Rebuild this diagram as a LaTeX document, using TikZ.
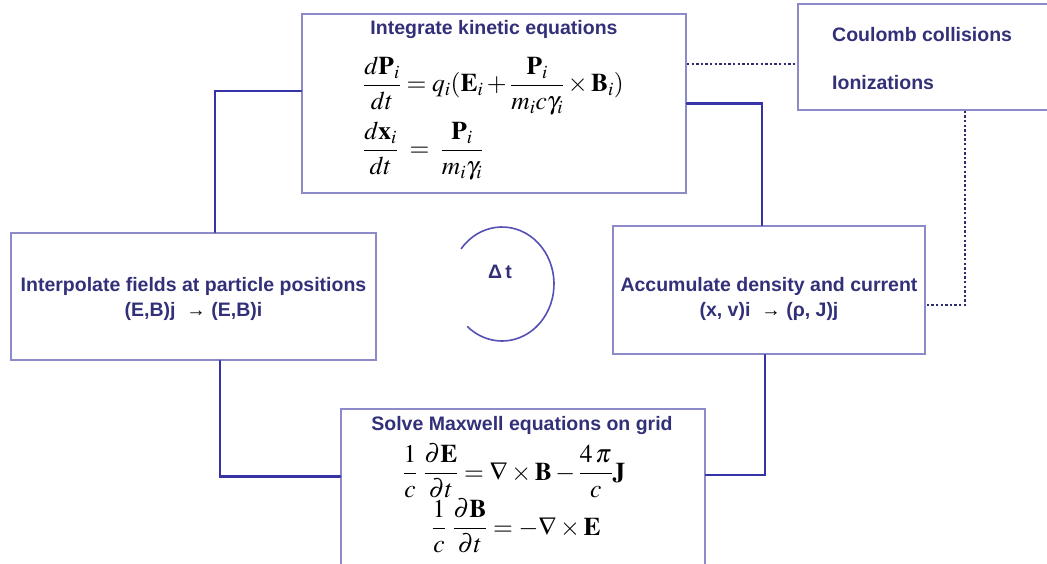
\documentclass[tikz,border=0pt]{standalone}
\usepackage{amsmath}
\usepackage{mathptmx}
\usepackage[no-math]{fontspec}
\newfontfamily\lsans{Liberation Sans}
\usetikzlibrary{calc}
\definecolor{boxc}{RGB}{140,138,200}
\definecolor{connc}{RGB}{55,50,165}
\definecolor{txtc}{RGB}{50,48,120}
\definecolor{dotc}{RGB}{45,45,110}
\definecolor{arcc}{RGB}{85,80,180}
\tikzset{
  box/.style={draw=boxc, line width=1.8pt, inner sep=0pt, minimum width=#1},
  lbl/.style={text=txtc, font=\lsans\bfseries\fontsize{19.5}{25}\selectfont, inner sep=0pt},
  eqn/.style={text=black, font=\fontsize{25.5}{29}\selectfont, inner sep=0pt},
  conn/.style={draw=connc, line width=2.4pt, line cap=round, line join=miter},
  dotline/.style={draw=dotc, line width=2.8pt, dash pattern=on 2.4pt off 2.2pt},
  arcline/.style={draw=arcc, line width=1.6pt}
}
\begin{document}
\begin{tikzpicture}[x=1pt,y=-1pt]
\useasboundingbox (0,0) rectangle (1047,564);
\clip (0,0) rectangle (1047,564);
% boxes
\node[box=384pt, minimum height=179pt] (kin) at (494,103.5) {};
\node[box=272pt, minimum height=106pt] (coul) at (934,57) {};
\node[box=365pt, minimum height=127pt] (interp) at (193.5,296.5) {};
\node[box=312pt, minimum height=128pt] (accum) at (769,290) {};
\node[box=364pt, minimum height=171pt] (maxw) at (523,494.5) {};
% connectors
\draw[conn] ([yshift=12.5pt]kin.west) -| ([xshift=21.5pt]interp.north);
\draw[conn] (kin.east) -| ([xshift=-7pt]accum.north);
\draw[conn] ([xshift=-4pt]accum.south) |- ([yshift=19.5pt]maxw.east);
\draw[conn] ([xshift=26.5pt]interp.south) |- ([yshift=18pt]maxw.west);
\draw[dotline] ([yshift=39.5pt]kin.east) -- ([yshift=-7pt]coul.west);
\draw[dotline] ([xshift=31pt]coul.south) |- ([yshift=-15pt]accum.east);
% cycle arc
\coordinate (dtc) at (502,284);
\draw[arcline] ($(dtc)+(142:52pt and 57pt)$) arc[start angle=142, end angle=-132, x radius=52pt, y radius=57pt];
\node[lbl] (dt) at (500,272) {Δ\,t};
% texts
\node[lbl] (kint) at (494,30) {Integrate kinetic equations};
\node[eqn, anchor=west] (keq1) at (363,86) {$\displaystyle\frac{d\mathbf{P}_i}{dt}=q_i(\mathbf{E}_i+\frac{\mathbf{P}_i}{m_i c\gamma_i}\times\mathbf{B}_i)$};
\node[eqn, anchor=west] (keq2) at (363,151) {$\displaystyle\frac{d\mathbf{x}_i}{dt}\;=\;\frac{\,\mathbf{P}_i\,}{m_i\gamma_i}$};
\node[lbl, anchor=west] (coul1) at (832,35) {Coulomb collisions};
\node[lbl, anchor=west] (coul2) at (832,83) {Ionizations};
\node[lbl, align=center] (interpt) at (193.5,299) {Interpolate fields at particle positions\\(E,B)j \ {\color{black}→} (E,B)i};
\node[lbl, align=center] (accumt) at (769,299) {Accumulate density and current\\(x, v)i \ {\color{black}→} (ρ, J)j};
\node[lbl] (maxt) at (522,425) {Solve Maxwell equations on grid};
\node[eqn] (meq1) at (514,471) {$\displaystyle\frac{1}{c}\;\frac{\partial\mathbf{E}}{\partial t}=\nabla\times\mathbf{B}-\frac{4\,\pi}{c}\mathbf{J}$};
\node[eqn] (meq2) at (516,526) {$\displaystyle\frac{1}{c}\;\frac{\partial\mathbf{B}}{\partial t}=-\nabla\times\mathbf{E}$};
\end{tikzpicture}
\end{document}
